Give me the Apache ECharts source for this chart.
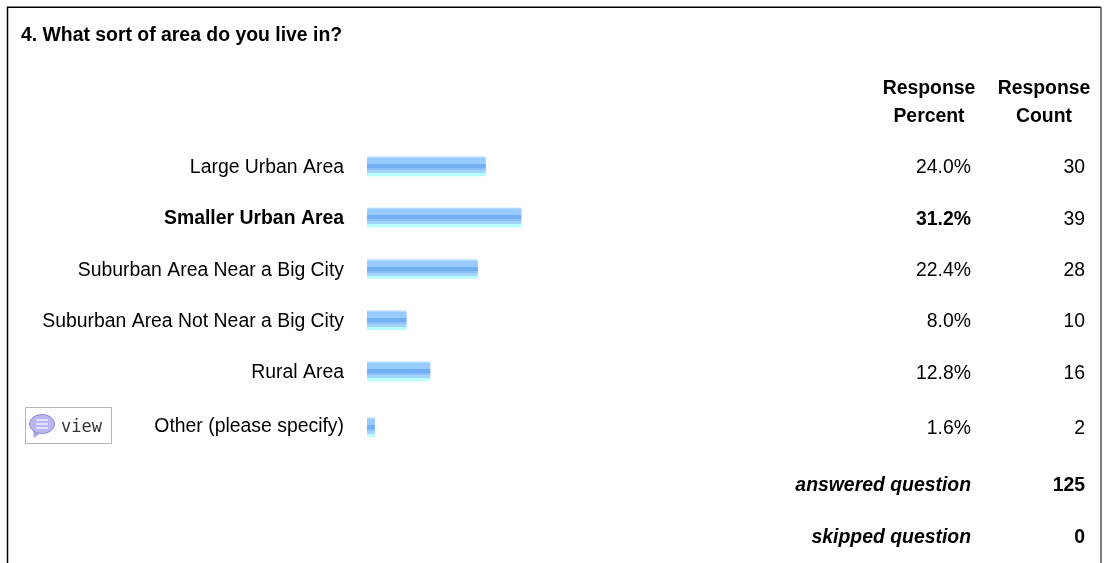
<!DOCTYPE html>
<html><head><meta charset="utf-8">
<style>html,body{margin:0;padding:0;background:#fff}#c{width:1107px;height:563px}</style>
<script src="https://cdn.jsdelivr.net/npm/echarts@6/dist/echarts.min.js"></script>
</head><body><div id="c"></div>
<script>
const title = '4. What sort of area do you live in?';
const mainCategories = ['Large Urban Area','Smaller Urban Area','Suburban Area Near a Big City','Suburban Area Not Near a Big City','Rural Area'];
const mainPercent = [24.0,31.2,22.4,8.0,12.8];
const mainCount = [30,39,28,10,16];
const otherCategories = ['Other (please specify)'];
const otherPercent = [1.6];
const otherCount = [2];
const boldCategory = 'Smaller Urban Area';
const footerLabels = ['answered question','skipped question'];
const footerValues = [125,0];
const FONT = '"Liberation Sans", Arial, sans-serif';
const FS = 19.4;

const chart = echarts.init(document.getElementById('c'), null, {renderer:'canvas'});
const barFill = new echarts.graphic.LinearGradient(0,0,0,1,(function(){
  const bands = [[1,'#cfe8ff'],[2,'#b6dcff'],[8,'#98cbff'],[12,'#72aff5'],[14,'#8abffa'],[17,'#a3d3ff'],[20,'#b8ffff']];
  const s=[];let p=0;
  bands.forEach(b=>{s.push({offset:p/20,color:b[1]});s.push({offset:b[0]/20,color:b[1]});p=b[0];});
  return s;
})());
function yAx(cats,idx){return {type:'category',gridIndex:idx,data:cats,inverse:true,
  axisLine:{show:false},axisTick:{show:false},splitLine:{show:false},
  axisLabel:{show:idx<2,margin:23,fontSize:FS,fontFamily:FONT,color:'#000',align:'right',padding:[idx===1?0:3,0,0,0],
    formatter:v=>v===boldCategory?'{b|'+v+'}':v,
    rich:{b:{fontWeight:'bold',fontSize:FS,fontFamily:FONT,color:'#000'}}}};}
function xAx(idx){return {type:'value',gridIndex:idx,min:0,max:100,show:false};}
function ser(vals,idx){return {type:'bar',xAxisIndex:idx,yAxisIndex:idx,data:vals,barWidth:20,silent:true,
  itemStyle:{color:barFill},animation:false};}
chart.setOption({
  animation:false,
  backgroundColor:'#fff',
  grid:[
    {left:367,width:495,top:140.5,height:256.5},
    {left:367,width:495,top:401.5,height:51},
    {left:367,width:495,top:458,height:103}
  ],
  xAxis:[xAx(0),xAx(1),xAx(2)],
  yAxis:[yAx(mainCategories,0),yAx(otherCategories,1),yAx(footerLabels,2)],
  series:[ser(mainPercent,0),ser(otherPercent,1)]
});
const T=(x,y,text,align,bold,italic,fs)=>({type:'text',silent:true,x:x,y:y,style:{text:text,
  fill:'#000',align:align,verticalAlign:'middle',
  font:(italic?'italic ':'')+(bold?'bold ':'')+(fs||FS)+'px '+FONT}});
const g=[];
// frame
[[7,7.25,1101,7.25,'#000',1.5],[7.5,7,7.5,563,'#000',1.5],[1101,7,1101,563,'#555',1.5]].forEach(l=>g.push({type:'line',silent:true,
  shape:{x1:l[0],y1:l[1],x2:l[2],y2:l[3]},style:{stroke:l[4],lineWidth:l[5]}}));
g.push(T(21,36,title,'left',true,false,FS));
g.push(T(929,89,'Response','center',true),T(929,117,'Percent','center',true),
       T(1044,89,'Response','center',true),T(1044,117,'Count','center',true));
function col(cats,pct,cnt,idx){cats.forEach((c,i)=>{
  const y=chart.convertToPixel({yAxisIndex:idx},c)+2;
  const b=c===boldCategory;
  g.push(T(971,y,pct[i].toFixed(1)+'%','right',b),T(1085,y,String(cnt[i]),'right',false));
});}
col(mainCategories,mainPercent,mainCount,0);
col(otherCategories,otherPercent,otherCount,1);
footerLabels.forEach((c,i)=>{
  const y=chart.convertToPixel({yAxisIndex:2},c)+2;
  g.push(T(971,y,c,'right',true,true),T(1085,y,String(footerValues[i]),'right',true));
});
// view button
g.push({type:'rect',silent:true,shape:{x:25.5,y:407.5,width:86,height:36},style:{fill:'#fff',stroke:'#b4b4b4',lineWidth:1}});
g.push({type:'polygon',silent:true,shape:{points:[[33,430],[34,438],[43,431]]},style:{fill:'#a9a6e6'}});
g.push({type:'ellipse',silent:true,shape:{cx:42,cy:424,rx:12.5,ry:9.5},style:{fill:'#b9b6f0',stroke:'#8f8cd8',lineWidth:1}});
[420,424,428].forEach(y=>g.push({type:'line',silent:true,shape:{x1:36,y1:y,x2:48,y2:y},style:{stroke:'#eeeeff',lineWidth:1.5}}));
g.push({type:'text',silent:true,x:61,y:428,style:{text:'view',fill:'#333',align:'left',verticalAlign:'middle',font:'17px "DejaVu Sans Mono", monospace'}});
chart.setOption({graphic:{elements:g}});
</script></body></html>
